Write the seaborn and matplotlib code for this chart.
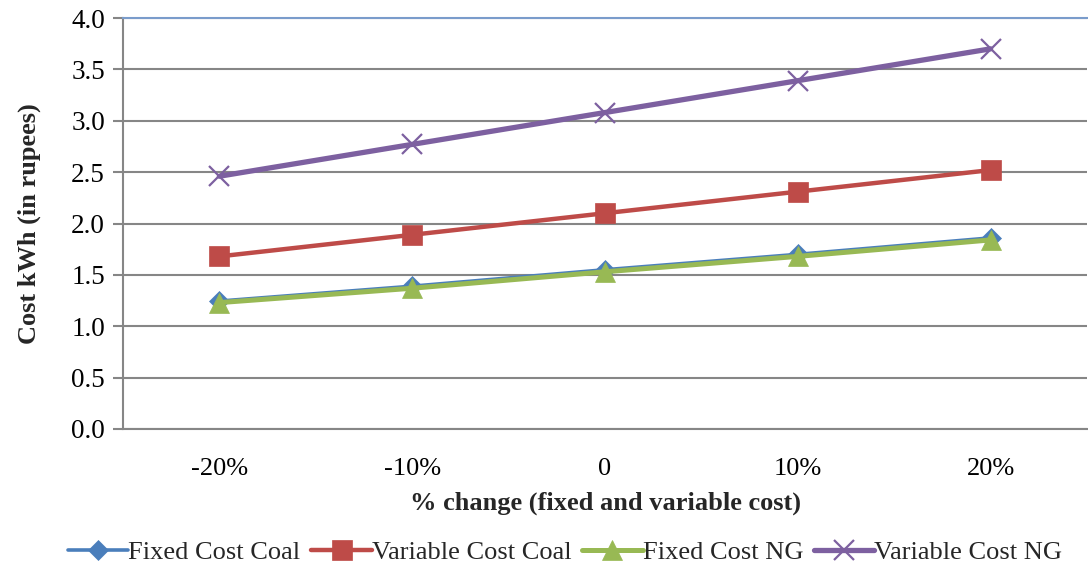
import matplotlib
matplotlib.use("Agg")
import matplotlib.pyplot as plt
import seaborn as sns
import pandas as pd

categories = ["-20%", "-10%", "0", "10%", "20%"]
fixed_coal = [1.245, 1.39, 1.55, 1.70, 1.86]
variable_coal = [1.68, 1.89, 2.10, 2.31, 2.52]
fixed_ng = [1.23, 1.37, 1.53, 1.68, 1.84]
variable_ng = [2.46, 2.77, 3.08, 3.39, 3.70]

series_names = ["Fixed Cost Coal", "Variable Cost Coal", "Fixed Cost NG", "Variable Cost NG"]
series_values = [fixed_coal, variable_coal, fixed_ng, variable_ng]

sns.set_theme(style="white")
plt.rcParams['font.family'] = ['Liberation Serif', 'DejaVu Serif']

colors = ["#4A7EBB", "#BE4B48", "#98B954", "#7D60A0"]
markers = ["D", "s", "^", "x"]
msizes = [10, 14, 14, 14]
lws = [2.6, 3.2, 3.6, 3.8]

fig = plt.figure(figsize=(10.88, 5.65), dpi=100)
ax = fig.add_axes([123/1088, 1-429/565, (1087-123)/1088, (429-18)/565])

for name, vals, c, m, ms, lw in zip(series_names, series_values, colors, markers, msizes, lws):
    df = pd.DataFrame({"x": categories, "y": vals})
    sns.lineplot(data=df, x="x", y="y", ax=ax, color=c, marker=m, markersize=ms,
                 linewidth=lw, markeredgecolor=c, markeredgewidth=1.6 if m == "x" else 0.5,
                 label=name, sort=False)

ax.set_xlim(-0.5, 4.5)
ax.set_ylim(0, 4.0)
ax.set_yticks([i * 0.5 for i in range(9)])
ax.set_yticklabels([f"{i*0.5:.1f}" for i in range(9)])
ax.set_xticks(range(5))
ax.set_xticklabels(categories)
ax.set_xticks([i - 0.5 for i in range(6)], minor=True)

ax.yaxis.grid(True, color="#868686", linewidth=1.5)
ax.set_axisbelow(True)
ax.spines["right"].set_visible(False)
ax.spines["top"].set_color("#7A9CCB")
ax.spines["top"].set_linewidth(1.5)
for s in ["left", "bottom"]:
    ax.spines[s].set_color("#868686")
    ax.spines[s].set_linewidth(1.5)

ax.tick_params(axis="x", which="major", length=0, labelsize=19, pad=21, colors="black")
ax.tick_params(axis="x", which="minor", length=7, width=1.5, color="#868686", direction="out")
ax.tick_params(axis="y", length=7, width=1.5, color="#868686", labelsize=19.5, pad=6,
               direction="out", left=True, labelcolor="black")

ax.set_xlabel("% change (fixed and variable cost)", fontsize=19, fontweight="bold", labelpad=8)
ax.set_ylabel("Cost kWh (in rupees)", fontsize=19, fontweight="bold", labelpad=22)

leg = ax.legend(loc="lower center", bbox_to_anchor=(0.5 - 45/1088, -0.355), ncol=4, frameon=False,
                fontsize=19, handlelength=2.3, handletextpad=0.0, columnspacing=0.4, borderaxespad=0)

fig.savefig("out.png", dpi=100)
